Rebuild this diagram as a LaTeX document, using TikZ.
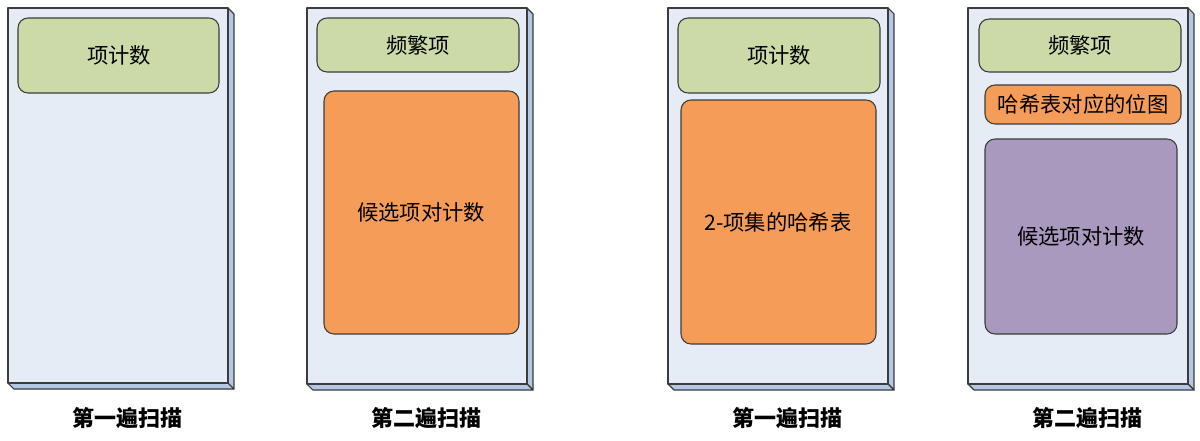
\documentclass[tikz,border=0pt]{standalone}
\usepackage{fontspec}
\setmainfont{Noto Sans CJK SC}
\usetikzlibrary{positioning}
\definecolor{facecol}{RGB}{230,236,246}
\definecolor{sidecol}{RGB}{180,200,230}
\definecolor{greencol}{RGB}{204,218,168}
\definecolor{orangecol}{RGB}{245,157,88}
\definecolor{purplecol}{RGB}{169,153,191}
\definecolor{edgecol}{RGB}{60,60,60}
\tikzset{
  front/.style={draw=edgecol, fill=facecol, line width=0.8pt, line join=round},
  side/.style={draw=edgecol, fill=sidecol, line width=0.8pt, line join=round},
  card/.style={draw=edgecol, line width=0.8pt, rounded corners=7.5pt},
  cardtext/.style={inner sep=0.75pt, font=\fontsize{16}{19}\selectfont},
  caption/.style={inner sep=0.75pt, font=\fontsize{16.5}{20}\selectfont\bfseries}
}
\begin{document}
\begin{tikzpicture}[x=0.75pt,y=0.75pt,yscale=-1,xscale=1]
\useasboundingbox (0,0) rectangle (1200,440);

%Panel 1: first pass
\draw [side] (228,8) -- (234,14) -- (234,389) -- (228,383) -- cycle ;
\draw [side] (8,383) -- (14,389) -- (234,389) -- (228,383) -- cycle ;
\draw [front] (8,8) rectangle (228,383) ;
\draw [card, fill=greencol] (18,18) rectangle (219,93) ;
\node [cardtext] (cnt1) at (119,55) {项计数};
\node [caption] (pass1) at (127,418) {第一遍扫描};

%Panel 2: second pass
\draw [side] (527,8) -- (533,14) -- (533,390) -- (527,384) -- cycle ;
\draw [side] (307,384) -- (313,390) -- (533,390) -- (527,384) -- cycle ;
\draw [front] (307,8) rectangle (527,384) ;
\draw [card, fill=greencol] (317,18) rectangle (519,72) ;
\node [cardtext] (freq2) at (418,45) {频繁项};
\draw [card, fill=orangecol] (324,91) rectangle (519,334) ;
\node [cardtext] (cand2) at (421,212) {候选项对计数};
\node [caption] (pass2) at (426,418) {第二遍扫描};

%Panel 3: first pass with hash table
\draw [side] (888,8) -- (894,14) -- (894,390) -- (888,384) -- cycle ;
\draw [side] (668,384) -- (674,390) -- (894,390) -- (888,384) -- cycle ;
\draw [front] (668,8) rectangle (888,384) ;
\draw [card, fill=greencol] (678,18) rectangle (880,93) ;
\node [cardtext] (cnt3) at (779,55) {项计数};
\draw [card, fill=orangecol] (681,100) rectangle (876,344) ;
\node [cardtext] (hash3) at (778,222) {2-项集的哈希表};
\node [caption] (pass3) at (787,418) {第一遍扫描};

%Panel 4: second pass with bitmap
\draw [side] (1188,8) -- (1194,14) -- (1194,390) -- (1188,384) -- cycle ;
\draw [side] (968,384) -- (974,390) -- (1194,390) -- (1188,384) -- cycle ;
\draw [front] (968,8) rectangle (1188,384) ;
\draw [card, fill=greencol] (979,19) rectangle (1181,72) ;
\node [cardtext] (freq4) at (1080,45) {频繁项};
\draw [card, fill=orangecol] (985,85) rectangle (1181,124) ;
\node [cardtext] (bmap4) at (1083,104) {哈希表对应的位图};
\draw [card, fill=purplecol] (985,139) rectangle (1177,334) ;
\node [cardtext] (cand4) at (1081,236) {候选项对计数};
\node [caption] (pass4) at (1087,418) {第二遍扫描};

\end{tikzpicture}
\end{document}
